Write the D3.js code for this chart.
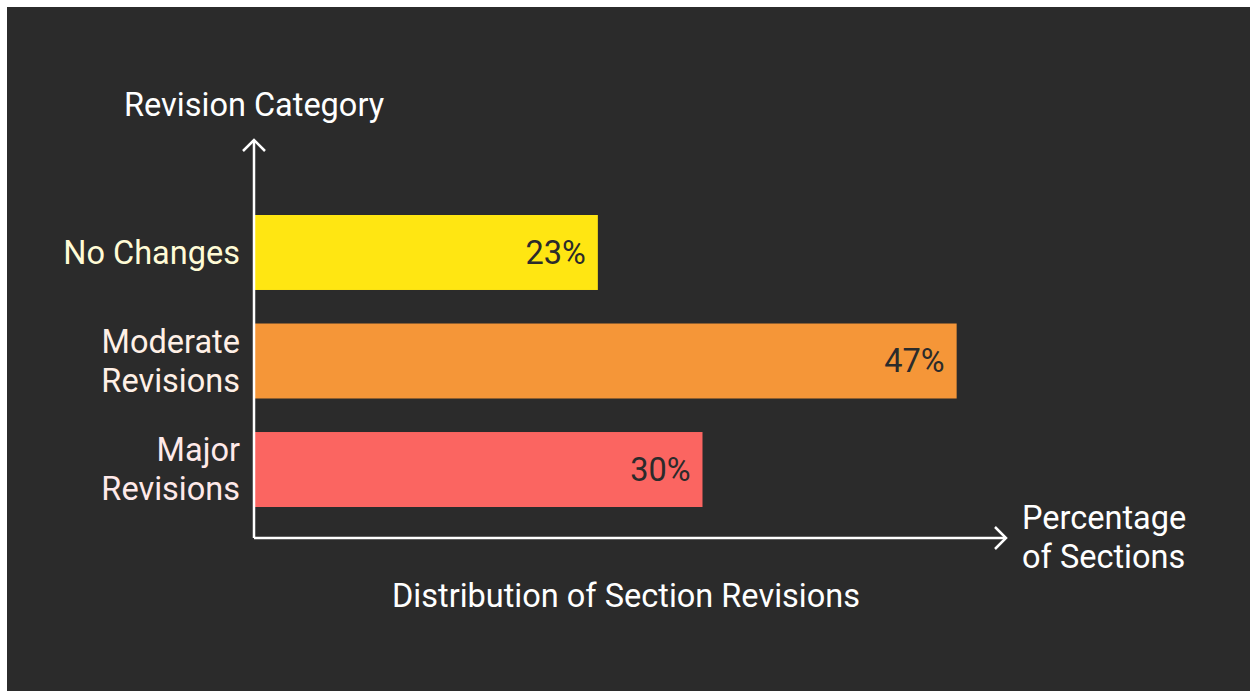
<!DOCTYPE html>
<html>
<head>
<meta charset="utf-8">
<script src="https://cdn.jsdelivr.net/npm/d3@7"></script>
<style>
  html, body { margin: 0; padding: 0; background: #ffffff; }
  svg { display: block; }
  text { font-family: Roboto, "Noto Sans", sans-serif; }
</style>
</head>
<body>
<svg id="chart"></svg>
<script>
// chart data
var categories = ["No Changes", "Moderate Revisions", "Major Revisions"];
var labelLines = [["No Changes"], ["Moderate", "Revisions"], ["Major", "Revisions"]];
var values = [23, 47, 30];
var barColors = ["#ffe612", "#f59638", "#fb6561"];
var labelColors = ["#fffbd6", "#fff0e6", "#ffe9e9"];

var width = 1250, height = 691;
var fs = 32.5;
var svg = d3.select("#chart").attr("width", width).attr("height", height);

// dark panel
svg.append("rect")
    .attr("x", 7).attr("y", 7)
    .attr("width", width - 7).attr("height", height - 7)
    .attr("fill", "#2b2b2b");

var x0 = 254, yAxisBottom = 538;

var x = d3.scaleLinear()
    .domain([0, 50])
    .range([x0, x0 + 747.5]);

var y = d3.scaleBand()
    .domain(categories)
    .range([215, 507])
    .paddingInner(0.309)
    .paddingOuter(0);

// bars
svg.append("g")
    .selectAll("rect")
    .data(values)
    .join("rect")
    .attr("x", x(0) + 1)
    .attr("y", (d, i) => y(categories[i]))
    .attr("width", d => x(d) - x(0) - 1)
    .attr("height", y.bandwidth())
    .attr("fill", (d, i) => barColors[i]);

// value labels
svg.append("g")
    .selectAll("text")
    .data(values)
    .join("text")
    .attr("x", d => x(d) - 12)
    .attr("y", (d, i) => y(categories[i]) + y.bandwidth() / 2)
    .attr("dy", "0.35em")
    .attr("text-anchor", "end")
    .attr("font-size", fs)
    .attr("fill", "#2b2b2b")
    .text(d => d + "%");

// category labels
var lab = svg.append("g")
    .selectAll("text")
    .data(categories)
    .join("text")
    .attr("text-anchor", "end")
    .attr("font-size", fs)
    .attr("fill", (d, i) => labelColors[i]);

lab.each(function(d, i) {
    var lines = labelLines[i];
    var cy = y(d) + y.bandwidth() / 2;
    var lh = 39;
    var start = cy - (lines.length - 1) * lh / 2;
    d3.select(this).selectAll("tspan")
        .data(lines)
        .join("tspan")
        .attr("x", 240)
        .attr("y", (t, j) => start + j * lh)
        .attr("dy", "0.35em")
        .text(t => t);
});

// axes with open arrow heads
var axisColor = "#ffffff";
svg.append("line")
    .attr("x1", x0).attr("y1", yAxisBottom)
    .attr("x2", x0).attr("y2", 140)
    .attr("stroke", axisColor).attr("stroke-width", 2.5);
svg.append("path")
    .attr("d", "M" + (x0 - 11) + ",151 L" + x0 + ",140 L" + (x0 + 11) + ",151")
    .attr("fill", "none").attr("stroke", axisColor).attr("stroke-width", 2.5);

svg.append("line")
    .attr("x1", x0).attr("y1", yAxisBottom)
    .attr("x2", 1006).attr("y2", yAxisBottom)
    .attr("stroke", axisColor).attr("stroke-width", 2.5);
svg.append("path")
    .attr("d", "M995," + (yAxisBottom - 11) + " L1006," + yAxisBottom + " L995," + (yAxisBottom + 11))
    .attr("fill", "none").attr("stroke", axisColor).attr("stroke-width", 2.5);

// axis titles
svg.append("text")
    .attr("x", 124).attr("y", 105)
    .attr("dy", "0.35em")
    .attr("font-size", fs)
    .attr("fill", "#ffffff")
    .text("Revision Category");

svg.append("text")
    .selectAll("tspan")
    .data(["Percentage", "of Sections"])
    .join("tspan")
    .attr("x", 1022)
    .attr("y", (d, i) => 518 + i * 39)
    .attr("dy", "0.35em")
    .attr("font-size", fs)
    .attr("fill", "#ffffff")
    .text(d => d);

svg.append("text")
    .attr("x", 626).attr("y", 596)
    .attr("dy", "0.35em")
    .attr("text-anchor", "middle")
    .attr("font-size", fs)
    .attr("fill", "#ffffff")
    .text("Distribution of Section Revisions");
</script>
</body>
</html>
